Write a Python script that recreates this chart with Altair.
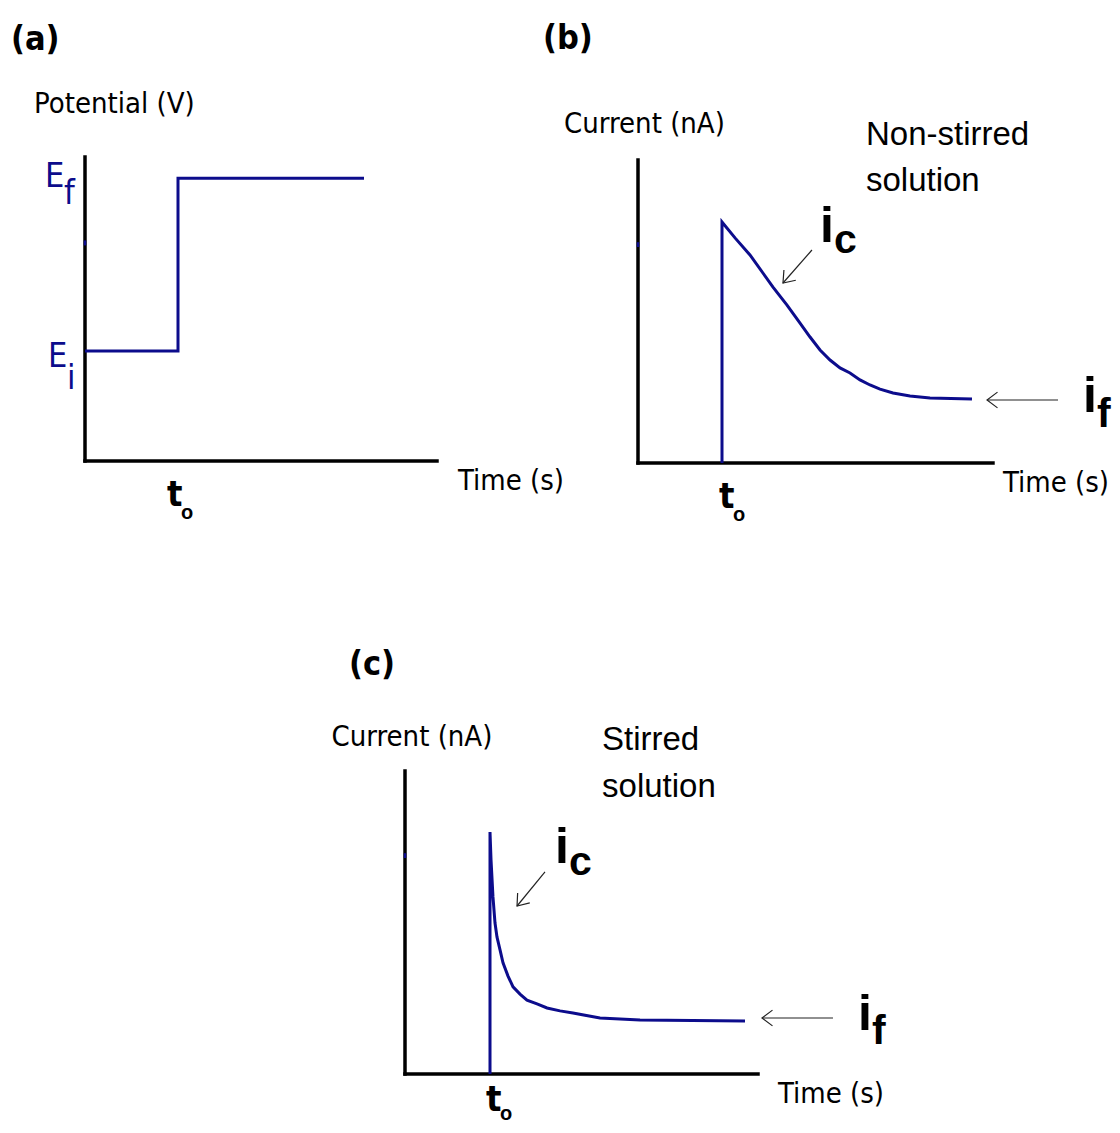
import altair as alt
import pandas as pd

# ---------------- data ----------------
# (a) potential step: time (t0 = 1) vs potential
a_time = [0.0, 1.0, 1.0, 3.0]
a_pot = [1.0, 1.0, 2.57, 2.57]

# (b) non-stirred solution
b_time = [1.0, 1.0, 1.155, 1.333, 1.607, 1.774, 1.929, 2.048, 2.167, 2.286, 2.405,
          2.524, 2.643, 2.762, 2.881, 3.036, 3.238, 3.476, 3.976]
b_cur = [0.0, 10.04, 9.38, 8.67, 7.33, 6.58, 5.83, 5.25, 4.71, 4.29, 3.96,
         3.75, 3.46, 3.25, 3.08, 2.92, 2.79, 2.71, 2.67]

# (c) stirred solution
c_time = [1.0, 1.0, 1.012, 1.035, 1.059, 1.082, 1.118, 1.153, 1.212, 1.271, 1.353,
          1.435, 1.553, 1.671, 1.824, 1.976, 2.294, 2.765, 4.0]
c_cur = [0.0, 10.08, 8.92, 7.38, 6.29, 5.71, 5.17, 4.63, 4.08, 3.63, 3.33,
         3.08, 2.92, 2.75, 2.63, 2.54, 2.33, 2.25, 2.21]

# axis extents (time end, value end)
a_axis = [3.785, 2.764]
b_axis = [4.226, 12.625]
c_axis = [4.153, 12.625]

# small blue mark on each y axis
a_mark = [1.96, 2.005]
b_mark = [9.0, 9.2]
c_mark = [9.0, 9.2]

# text annotations
a_text_label = ["(a)", "Potential (V)", "Time (s)", "E", "f", "E", "i", "t", "o"]
a_text_t = [-0.796, -0.548, 4.011, -0.43, -0.226, -0.398, -0.194, 0.882, 1.032]
a_text_v = [3.83, 3.245, -0.186, 2.58, 2.425, 0.944, 0.744, -0.305, -0.476]
a_text_style = ["panel", "axis", "axis", "E", "Esub", "E", "Esub", "t", "o"]

b_text_label = ["(b)", "Current (nA)", "Time (s)", "Non-stirred", "solution",
                "i", "c", "i", "f", "t", "o"]
b_text_t = [-1.131, -0.881, 4.345, 2.714, 2.714, 2.167, 2.333, 5.298, 5.464, 0.964, 1.131]
b_text_v = [17.65, 14.125, -0.8125, 13.67, 11.75, 9.83, 9.25, 2.75, 1.98, -1.40, -2.18]
b_text_style = ["panel", "axis", "axis", "note", "note", "ibig", "isub", "ibig", "isub", "t", "o"]

c_text_label = ["(c)", "Current (nA)", "Time (s)", "Stirred", "solution",
                "i", "c", "i", "f", "t", "o"]
c_text_t = [-0.659, -0.865, 4.388, 2.318, 2.318, 1.765, 1.929, 5.33, 5.494, 0.953, 1.118]
c_text_v = [17.04, 14.06, -0.854, 13.92, 11.96, 9.42, 8.79, 2.46, 1.73, -1.083, -1.667]
c_text_style = ["panel", "axis", "axis", "note", "note", "ibig", "isub", "ibig", "isub", "t", "o"]

# arrows: start -> tip, head direction (deg)
b_arrow_t = [2.071, 5.0]
b_arrow_v = [8.875, 2.625]
b_arrow_t2 = [1.726, 4.155]
b_arrow_v2 = [7.5, 2.625]
b_arrow_ang = [131, 180]

c_arrow_t = [1.647, 5.035]
c_arrow_v = [8.417, 2.333]
c_arrow_t2 = [1.318, 4.2]
c_arrow_v2 = [7.0, 2.333]
c_arrow_ang = [129.5, 180]

# ---------------- styling ----------------
NARROW = "DejaVu Sans Condensed, Roboto Condensed, Liberation Sans Narrow, Roboto, sans-serif"
SANS = "Liberation Sans, Arial, sans-serif"
BLUE = "#0c0c8c"

STYLES = {
    "panel": dict(font=NARROW, fontSize=34, fontWeight="bold", color="black"),
    "axis": dict(font=NARROW, fontSize=29, color="black"),
    "note": dict(font=SANS, fontSize=33, color="black"),
    "E": dict(font=NARROW, fontSize=34, color=BLUE),
    "Esub": dict(font=NARROW, fontSize=34, color=BLUE),
    "ibig": dict(font=SANS, fontSize=50, fontWeight="bold", color="black"),
    "isub": dict(font=SANS, fontSize=41, fontWeight="bold", color="black"),
    "t": dict(font=NARROW, fontSize=36, fontWeight="bold", color="black"),
    "o": dict(font=SANS, fontSize=20, fontWeight="bold", color="black"),
}

HEAD = "M-1,-0.75L0,0L-1,0.75"


def build_panel(xdom, xrange, ydom, yrange, axis_end, mark, curve_t, curve_v,
                labels, lt, lv, lstyle, arrows=None):
    xs = alt.Scale(domain=xdom, range=xrange, nice=False, zero=False)
    ys = alt.Scale(domain=ydom, range=yrange, nice=False, zero=False)
    X = lambda f: alt.X(f, type="quantitative", scale=xs, axis=None)
    Y = lambda f: alt.Y(f, type="quantitative", scale=ys, axis=None)

    axes_df = pd.DataFrame({"t": [0, 0], "t2": [axis_end[0], 0],
                            "v": [0, 0], "v2": [0, axis_end[1]]})
    axes = alt.Chart(axes_df).mark_rule(color="black", strokeWidth=3.5, strokeCap="square").encode(
        x=X("t"), x2="t2", y=Y("v"), y2="v2")

    mark_df = pd.DataFrame({"t": [0], "v": [mark[0]], "v2": [mark[1]]})
    blue_mark = alt.Chart(mark_df).mark_rule(color=BLUE, strokeWidth=2.5).encode(
        x=X("t"), y=Y("v"), y2="v2")

    curve_df = pd.DataFrame({"t": curve_t, "v": curve_v, "k": list(range(len(curve_t)))})
    curve = alt.Chart(curve_df).mark_line(color=BLUE, strokeWidth=3, strokeJoin="miter").encode(
        x=X("t"), y=Y("v"), order="k:Q")

    layers = [axes, curve, blue_mark]

    if arrows is not None:
        at, av, at2, av2, ang = arrows
        arr_df = pd.DataFrame({"t": at, "v": av, "t2": at2, "v2": av2, "ang": ang})
        shafts = alt.Chart(arr_df).mark_rule(color="#222222", strokeWidth=1.2).encode(
            x=X("t"), x2="t2", y=Y("v"), y2="v2")
        heads = alt.Chart(arr_df).mark_point(shape=HEAD, filled=False, size=440,
                                             strokeWidth=1.2, color="#222222", opacity=1).encode(
            x=X("t2"), y=Y("v2"), angle=alt.Angle("ang:Q", scale=None))
        layers += [shafts, heads]

    text_df = pd.DataFrame({"label": labels, "t": lt, "v": lv, "style": lstyle})
    for sname, sprops in STYLES.items():
        sub = text_df[text_df["style"] == sname]
        if len(sub) == 0:
            continue
        layers.append(alt.Chart(sub).mark_text(align="left", baseline="middle", **sprops).encode(
            x=X("t"), y=Y("v"), text="label:N"))

    return alt.layer(*layers)


panel_a = build_panel([0, 4], [77, 449], [0, 3], [453, 123], a_axis, a_mark,
                      a_time, a_pot, a_text_label, a_text_t, a_text_v, a_text_style)

panel_b = build_panel([0, 5], [630, 1050], [0, 15], [455, 95], b_axis, b_mark,
                      b_time, b_cur, b_text_label, b_text_t, b_text_v, b_text_style,
                      arrows=(b_arrow_t, b_arrow_v, b_arrow_t2, b_arrow_v2, b_arrow_ang))

panel_c = build_panel([0, 5], [397, 822], [0, 15], [1066, 706], c_axis, c_mark,
                      c_time, c_cur, c_text_label, c_text_t, c_text_v, c_text_style,
                      arrows=(c_arrow_t, c_arrow_v, c_arrow_t2, c_arrow_v2, c_arrow_ang))

chart = alt.layer(panel_a, panel_b, panel_c).resolve_scale(
    x="independent", y="independent"
).properties(
    width=1104, height=1117, padding=0, background="white",
    autosize=alt.AutoSizeParams(type="none")
).configure_view(stroke=None)

chart.save("out.html", embed_options={"renderer": "svg", "actions": False})
